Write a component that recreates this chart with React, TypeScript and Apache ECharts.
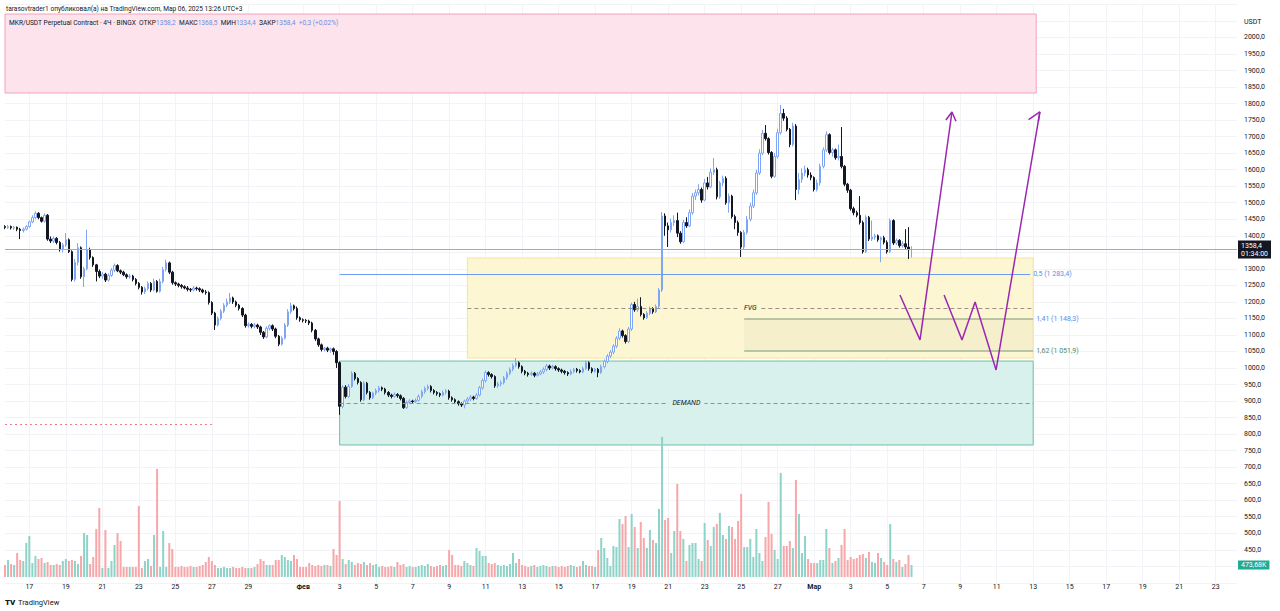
import React, { useEffect, useRef } from "react";
import * as echarts from "echarts";

// 4H candles, [open, close, low, high], first slot = 15 Jan 2025 16:00
const CANDLES: number[][] = [
  [1428,1425,1420,1432],[1425,1428,1421,1433],[1428,1424,1419,1431],[1424,1426,1418,1430],[1426,1420,1414,1428],[1420,1416,1390,1424],[1416,1420,1410,1425],[1420,1428,1416,1432],[1428,1442,1424,1446],[1442,1455,1438,1462],
  [1455,1468,1450,1474],[1468,1455,1450,1472],[1455,1444,1440,1458],[1444,1462,1440,1468],[1462,1390,1385,1466],[1390,1384,1378,1398],[1384,1392,1378,1398],[1392,1380,1374,1396],[1380,1358,1352,1384],[1358,1372,1350,1378],
  [1372,1388,1366,1408],[1388,1352,1348,1392],[1352,1268,1262,1356],[1268,1320,1262,1330],[1320,1364,1310,1378],[1364,1276,1270,1368],[1276,1300,1245,1306],[1300,1358,1296,1418],[1358,1334,1328,1364],[1334,1312,1306,1338],
  [1312,1292,1262,1315],[1292,1278,1272,1298],[1278,1284,1270,1290],[1284,1266,1260,1288],[1266,1280,1262,1286],[1280,1296,1276,1302],[1296,1310,1290,1316],[1310,1294,1290,1314],[1294,1290,1284,1298],[1290,1282,1278,1294],
  [1282,1276,1270,1286],[1276,1278,1270,1284],[1278,1268,1262,1282],[1268,1256,1250,1272],[1256,1244,1238,1260],[1244,1230,1222,1248],[1230,1240,1224,1246],[1240,1256,1234,1262],[1256,1236,1230,1260],[1236,1262,1232,1270],
  [1262,1232,1228,1266],[1232,1262,1228,1270],[1262,1298,1256,1306],[1298,1318,1292,1328],[1318,1290,1284,1322],[1290,1258,1252,1294],[1258,1254,1248,1262],[1254,1250,1244,1258],[1250,1246,1240,1254],[1246,1242,1238,1250],
  [1242,1238,1232,1248],[1238,1236,1230,1242],[1236,1242,1232,1248],[1242,1240,1234,1246],[1240,1236,1230,1244],[1236,1230,1226,1240],[1230,1228,1222,1236],[1228,1198,1192,1232],[1198,1166,1160,1202],[1166,1130,1115,1170],
  [1130,1150,1126,1156],[1150,1172,1144,1178],[1172,1190,1166,1196],[1190,1200,1184,1210],[1200,1212,1194,1227],[1212,1200,1194,1216],[1200,1190,1184,1204],[1190,1180,1174,1194],[1180,1160,1154,1184],[1160,1128,1122,1164],
  [1128,1132,1122,1138],[1132,1126,1120,1136],[1126,1130,1120,1136],[1130,1124,1118,1134],[1124,1108,1100,1128],[1108,1094,1088,1112],[1094,1120,1090,1126],[1120,1128,1114,1132],[1128,1118,1112,1132],[1118,1096,1090,1122],
  [1096,1072,1066,1100],[1072,1090,1068,1096],[1090,1130,1086,1136],[1130,1170,1124,1178],[1170,1188,1164,1197],[1188,1180,1174,1192],[1180,1152,1146,1186],[1152,1146,1140,1156],[1146,1144,1138,1150],[1144,1142,1136,1148],
  [1142,1136,1130,1146],[1136,1114,1108,1140],[1114,1088,1082,1118],[1088,1070,1064,1092],[1070,1056,1050,1074],[1056,1060,1050,1064],[1060,1054,1048,1064],[1054,1058,1046,1062],[1058,1050,1040,1062],[1050,1016,1000,1054],
  [1016,884,858,1020],[884,942,878,948],[942,914,908,948],[914,944,910,952],[944,984,940,990],[984,968,962,988],[968,956,950,972],[956,904,898,960],[904,954,900,960],[954,926,920,958],
  [926,910,904,930],[910,924,906,928],[924,932,918,938],[932,940,926,946],[940,936,930,944],[936,926,920,940],[926,918,912,930],[918,914,908,922],[914,920,910,926],[920,916,910,924],
  [916,908,902,920],[908,880,876,912],[880,896,876,902],[896,900,892,906],[900,898,892,904],[898,902,894,908],[902,914,898,920],[914,928,908,934],[928,938,922,944],[938,944,932,950],
  [944,932,926,948],[932,926,920,936],[926,922,916,930],[922,918,912,926],[918,926,914,932],[926,930,920,936],[930,910,904,934],[910,904,898,914],[904,898,892,908],[898,892,886,902],
  [892,888,882,896],[888,900,878,904],[900,906,894,912],[906,912,900,918],[912,908,902,916],[908,918,904,924],[918,940,914,946],[940,962,934,968],[962,986,956,992],[986,980,974,990],
  [980,974,968,984],[974,946,940,978],[946,952,940,958],[952,956,944,962],[956,970,950,976],[970,984,964,990],[984,996,978,1002],[996,1008,990,1014],[1008,1016,1002,1030],[1016,1004,998,1020],
  [1004,990,984,1008],[990,984,978,994],[984,980,974,988],[980,984,976,990],[984,978,972,988],[978,982,974,988],[982,988,978,994],[988,996,982,1002],[996,1006,990,1012],[1006,1000,994,1010],
  [1000,1004,996,1010],[1004,998,992,1008],[998,994,988,1002],[994,990,984,998],[990,986,980,994],[986,982,976,990],[982,990,978,996],[990,996,984,1000],[996,992,986,1000],[992,988,984,996],
  [988,998,984,1004],[998,1016,994,1022],[1016,998,992,1020],[998,990,984,1002],[990,996,986,1000],[996,986,972,1000],[986,1004,982,1010],[1004,1020,998,1026],[1020,1036,1014,1042],[1036,1048,1030,1054],
  [1048,1066,1042,1072],[1066,1090,1060,1096],[1090,1112,1084,1120],[1112,1098,1092,1116],[1098,1080,1074,1102],[1080,1118,1076,1124],[1118,1192,1112,1198],[1192,1176,1170,1200],[1176,1186,1170,1210],[1186,1162,1156,1214],
  [1162,1152,1146,1166],[1152,1166,1148,1172],[1166,1180,1160,1186],[1180,1170,1164,1184],[1170,1186,1166,1192],[1186,1236,1180,1242],[1236,1460,1230,1472],[1460,1430,1400,1468],[1430,1418,1366,1440],[1418,1440,1410,1452],
  [1440,1446,1430,1462],[1446,1408,1396,1470],[1408,1382,1376,1414],[1382,1440,1378,1448],[1440,1430,1424,1456],[1430,1470,1426,1480],[1470,1520,1464,1530],[1520,1530,1508,1540],[1530,1540,1522,1556],[1540,1508,1500,1546],
  [1508,1560,1504,1572],[1560,1548,1540,1578],[1548,1592,1544,1604],[1592,1600,1584,1635],[1600,1518,1510,1606],[1518,1560,1512,1566],[1560,1574,1550,1582],[1574,1500,1494,1580],[1500,1520,1470,1528],[1520,1458,1452,1524],
  [1458,1440,1420,1464],[1440,1410,1400,1446],[1410,1366,1336,1414],[1366,1410,1360,1418],[1410,1450,1404,1460],[1450,1490,1444,1500],[1490,1530,1484,1540],[1530,1590,1524,1600],[1590,1650,1584,1662],[1650,1710,1644,1720],
  [1710,1694,1688,1735],[1694,1652,1646,1698],[1652,1580,1574,1656],[1580,1640,1576,1650],[1640,1712,1634,1724],[1712,1770,1706,1796],[1770,1756,1748,1784],[1756,1722,1716,1762],[1722,1676,1668,1726],[1676,1732,1670,1742],
  [1732,1540,1508,1738],[1540,1570,1526,1590],[1570,1590,1560,1604],[1590,1600,1580,1612],[1600,1584,1576,1606],[1584,1576,1568,1592],[1576,1540,1534,1580],[1540,1560,1534,1570],[1560,1610,1552,1618],[1610,1660,1604,1668],
  [1660,1706,1654,1716],[1706,1652,1646,1710],[1652,1660,1640,1666],[1660,1636,1630,1664],[1636,1640,1628,1676],[1640,1610,1604,1729],[1610,1556,1550,1614],[1556,1538,1530,1560],[1538,1482,1476,1542],[1482,1470,1462,1488],
  [1470,1462,1456,1476],[1462,1440,1434,1520],[1440,1352,1346,1446],[1352,1456,1348,1462],[1456,1390,1384,1460],[1390,1396,1384,1446],[1396,1400,1388,1406],[1400,1388,1382,1404],[1388,1394,1320,1398],[1394,1380,1374,1400],
  [1380,1352,1346,1386],[1352,1446,1348,1452],[1446,1378,1372,1450],[1378,1386,1372,1392],[1386,1370,1364,1390],[1370,1376,1364,1384],[1376,1366,1360,1420],[1366,1358.1,1330,1426],[1358.2,1358.4,1334.4,1368.5],
];

// Volume per candle, thousands
const VOLUMES: number[] = [
  474,672,514,474,948,672,632,1343,1620,553,830,711,751,553,593,474,
  474,514,474,632,711,632,672,632,514,830,1738,1659,514,790,1896,2726,
  355,1857,355,632,1264,1738,1422,395,395,395,395,395,2805,355,632,711,
  435,1659,4266,395,1817,395,1343,1106,395,395,435,395,395,435,395,395,
  435,474,593,790,632,474,355,355,395,355,355,395,355,355,395,355,
  355,355,395,514,711,632,474,474,474,672,672,869,790,672,632,869,
  711,395,395,395,553,474,435,474,435,474,474,435,1106,869,3002,711,
  514,672,593,474,553,514,593,474,553,474,514,395,435,395,395,435,
  395,593,474,514,395,435,395,395,435,474,435,514,435,395,435,474,
  435,474,1067,869,474,474,435,632,553,474,435,1146,1027,830,830,553,
  514,553,474,435,474,435,514,948,553,711,474,435,395,435,474,395,
  435,474,435,395,435,435,395,435,395,435,474,435,395,435,632,474,
  435,435,395,1067,
  1541,1146,751,435,1225,1185,2291,2094,2410,1185,
  2489,1975,1146,2173,1541,1146,1857,1462,1343,2686,
  5530,2252,2331,948,1817,3674,1817,1501,632,1264,
  1343,1343,711,632,2133,1462,1225,1975,2094,2528,
  1659,1501,2015,1975,1501,2212,3279,1185,1185,1501,
  790,1896,948,632,1580,2963,1699,1067,711,4108,
  1225,1225,1422,1146,3832,2489,948,1620,711,553,
  553,553,672,672,1896,1146,553,632,751,1264,
  1896,672,790,711,751,869,909,751,988,593,
  553,948,751,593,474,2094,711,593,672,395,
  514,869,473.68,
];

const START_UTC = Date.UTC(2025, 0, 15, 16);
const SLOT_COUNT = 406;
const DAY_TICKS = [
  "01-17","01-19","01-21","01-23","01-25","01-27","01-29","02-01","02-03","02-05","02-07",
  "02-09","02-11","02-13","02-15","02-17","02-19","02-21","02-23","02-25","02-27","03-01",
  "03-03","03-05","03-07","03-09","03-11","03-13","03-15","03-17","03-19","03-21","03-23",
];
const MONTH_NAMES: Record<string, string> = { "02-01": "Фев", "03-01": "Мар" };

// zones: [fromSlot, toSlot, low, high]
const SUPPLY_ZONE = [0, 339, 1832, 2071];
const FVG_ZONE = [152, 338, 1030, 1333];
const DEMAND_ZONE = [110, 338, 767, 1021];
const FIB_BAND = [243, 338, 1051.9, 1148.3];
const FIB_LEVELS = [
  { label: "0,5 (1 283,4)", price: 1283.4, from: 110, to: 337 },
  { label: "1,41 (1 148,3)", price: 1148.3, from: 243, to: 338 },
  { label: "1,62 (1 051,9)", price: 1051.9, from: 243, to: 338 },
];
const FVG_MID = [152, 338, 1181.5];
const DEMAND_MID = [110, 338, 894];
const RED_LEVEL = [0, 68, 830.6];
const PATH_A = [[294.2, 1221], [300.8, 1085], [311.3, 1774.6]];
const PATH_B = [[308.7, 1221], [314.6, 1085], [318.9, 1199.7], [325.8, 994], [340.2, 1774.6]];
const ARROW_A = [[309.3, 1750.4], [311.3, 1774.6], [312.6, 1746.5]];
const ARROW_B = [[336.5, 1751.3], [340.2, 1774.6], [339.7, 1746.1]];
const LAST_PRICE_TIMER = "01:34:00";

const FONT = 'Roboto, "Noto Sans", sans-serif';
const TEXT = "#131722";
const UP_BORDER = "#7ea6f4";
const DOWN = "#131722";
const VOL_UP = "#8ed3c7";
const VOL_DOWN = "#f7a6a9";
const PURPLE = "#9c27b0";

const fmt = (v: number) => v.toFixed(1).replace(".", ",");

export default function App() {
  const ref = useRef<HTMLDivElement>(null);
  useEffect(() => {
    if (!ref.current) return;
    const chart = echarts.init(ref.current, undefined, { renderer: "svg" });

    const categories: string[] = [];
    for (let i = 0; i < SLOT_COUNT; i++) {
      const d = new Date(START_UTC + i * 4 * 3600 * 1000);
      const mm = String(d.getUTCMonth() + 1).padStart(2, "0");
      const dd = String(d.getUTCDate()).padStart(2, "0");
      const hh = String(d.getUTCHours()).padStart(2, "0");
      categories.push(`${mm}-${dd} ${hh}`);
    }
    const isTick = (_i: number, v: string) => v.endsWith(" 00") && DAY_TICKS.includes(v.slice(0, 5));

    const last = CANDLES[CANDLES.length - 1];
    const prevClose = CANDLES[CANDLES.length - 2][1];
    const chg = last[1] - prevClose;
    const chgPct = ((chg / prevClose) * 100).toFixed(2).replace(".", ",");
    const lastVol = VOLUMES[VOLUMES.length - 1];

    const volData = VOLUMES.map((v, i) => ({
      value: v,
      itemStyle: { color: CANDLES[i][1] >= CANDLES[i][0] ? VOL_UP : VOL_DOWN },
    }));

    const zoneArea = (z: number[], fill: string, border: string) => [
      { coord: [z[0], z[3]], itemStyle: { color: fill, borderColor: border, borderWidth: 1 } },
      { coord: [z[1], z[2]] },
    ];

    const midLine = (m: number[], text: string, bg: string) => [
      {
        coord: [m[0], m[2]],
        lineStyle: { color: "#9a8f80", type: [4, 3], width: 1 },
        label: {
          show: true, position: "insideMiddle", formatter: text, fontStyle: "italic",
          color: TEXT, fontSize: 7, fontFamily: FONT, backgroundColor: bg, padding: [1, 4],
        },
      },
      { coord: [m[1], m[2]] },
    ];

    const fibColors = ["#6f9cf0", "#a3b496", "#a3b496"];
    const fibLabelColors = ["#5b8def", "#5b8def", "#4f8a6f"];

    // hide axis labels that sit under the last-price / last-volume badges
    const hiddenTicks = (v: number) => v < 450 || v > 2000 || Math.abs(v - last[1]) < 20;

    const option: any = {
      animation: false,
      backgroundColor: "#ffffff",
      grid: [
        { left: 5, right: 43, top: 4.45, bottom: 28.2 },
        { left: 5, right: 43, top: 374.3, bottom: 34 },
      ],
      xAxis: [
        {
          type: "category", gridIndex: 0, data: categories, boundaryGap: false,
          axisLine: { show: false }, axisTick: { show: false }, axisLabel: { show: false },
          splitLine: { show: true, interval: isTick, lineStyle: { color: "#f1f3f7", width: 1 } },
        },
        {
          type: "category", gridIndex: 1, data: categories, boundaryGap: false,
          axisLine: { show: false }, axisTick: { show: false }, splitLine: { show: false },
          axisLabel: {
            show: true, interval: isTick, margin: 6, fontSize: 7, color: TEXT, fontFamily: FONT,
            formatter: (v: string) => {
              const md = v.slice(0, 5);
              return MONTH_NAMES[md] ? `{m|${MONTH_NAMES[md]}}` : String(Number(v.slice(3, 5)));
            },
            rich: { m: { fontWeight: "bold", fontSize: 7, color: TEXT, fontFamily: FONT } },
          },
        },
        { type: "value", gridIndex: 0, min: 0, max: SLOT_COUNT - 1, show: false },
      ],
      yAxis: [
        {
          type: "value", gridIndex: 0, position: "right", min: 350, max: 2100, interval: 50,
          axisLine: { show: false }, axisTick: { show: false },
          splitLine: { show: true, lineStyle: { color: "#f1f3f7", width: 1 } },
          axisLabel: {
            margin: 7, fontSize: 7, color: TEXT, fontFamily: FONT,
            formatter: (v: number) => (hiddenTicks(v) ? "" : fmt(v)),
          },
        },
        { type: "value", gridIndex: 1, min: 0, max: 8000, show: false },
      ],
      series: [
        {
          name: "drawings", type: "line", xAxisIndex: 2, yAxisIndex: 0, data: [], silent: true,
          markArea: {
            silent: true,
            data: [
              zoneArea(SUPPLY_ZONE, "#fde4ec", "#f3a3bd"),
              zoneArea(FVG_ZONE, "#fdf6d2", "#f6e39a"),
              zoneArea(DEMAND_ZONE, "#d9f1ec", "#6fbfa6"),
              [
                { coord: [FIB_BAND[0], FIB_BAND[3]], itemStyle: { color: "rgba(120,120,90,0.05)" } },
                { coord: [FIB_BAND[1], FIB_BAND[2]] },
              ],
            ],
          },
          markLine: {
            silent: true, symbol: ["none", "none"], label: { show: false },
            lineStyle: { color: "#a9abb2", type: "solid", width: 1 },
            data: [
              ...FIB_LEVELS.map((f, k) => [
                {
                  coord: [f.from, f.price],
                  lineStyle: { color: fibColors[k], width: k === 0 ? 1 : 1.5, type: "solid" },
                  label: {
                    show: true, position: "end", formatter: f.label, distance: 3,
                    color: fibLabelColors[k], fontSize: 7, fontFamily: FONT,
                  },
                },
                { coord: [f.to, f.price] },
              ]),
              midLine(FVG_MID, "FVG", "#fdf6d2"),
              midLine(DEMAND_MID, "DEMAND", "#d9f1ec"),
              [
                { coord: [RED_LEVEL[0], RED_LEVEL[2]], lineStyle: { color: "#f07a88", type: [2, 3], width: 1 } },
                { coord: [RED_LEVEL[1], RED_LEVEL[2]] },
              ],
              {
                yAxis: last[1],
                lineStyle: { color: "#a9abb2", width: 1, type: "solid" },
                label: {
                  show: true, position: "end", distance: 1,
                  formatter: `${fmt(last[1])}\n${LAST_PRICE_TIMER}`,
                  backgroundColor: "#131722", color: "#ffffff", fontSize: 7, lineHeight: 8,
                  padding: [1, 3], fontFamily: FONT,
                },
              },
            ],
          },
        },
        {
          name: "MKR", type: "candlestick", xAxisIndex: 0, yAxisIndex: 0, data: CANDLES,
          barWidth: 2,
          itemStyle: { color: "#ffffff", color0: DOWN, borderColor: UP_BORDER, borderColor0: DOWN, borderWidth: 1 },
        },
        {
          name: "Volume", type: "bar", xAxisIndex: 1, yAxisIndex: 1, data: volData, barWidth: 2,
          markLine: {
            silent: true, symbol: ["none", "none"],
            data: [
              {
                yAxis: lastVol,
                lineStyle: { color: "rgba(0,0,0,0)", width: 1 },
                label: {
                  show: true, position: "end", distance: 1,
                  formatter: lastVol.toFixed(2).replace(".", ",") + "K",
                  backgroundColor: "#22ab94", color: "#ffffff", fontSize: 7, padding: [1, 3], fontFamily: FONT,
                },
              },
            ],
          },
        },
        ...[PATH_A, PATH_B, ARROW_A, ARROW_B].map((p) => ({
          type: "line", xAxisIndex: 2, yAxisIndex: 0, data: p, showSymbol: false, silent: true,
          lineStyle: { color: PURPLE, width: 1.5 }, z: 6,
        })),
      ],
      graphic: [
        {
          type: "text", left: 6, top: 5, z: 100,
          style: {
            text: "tarasovtrader1 опубликовал(а) на TradingView.com, Мар 06, 2025 13:26 UTC+3",
            fontSize: 6.6, fill: TEXT, fontFamily: FONT,
          },
        },
        {
          type: "text", left: 9, top: 19, z: 100,
          style: {
            text:
              `{a|MKR/USDT Perpetual Contract · 4Ч · BINGX  ОТКР}{b|${fmt(last[0])}}` +
              `{a|  МАКС}{b|${fmt(last[3])}}{a|  МИН}{b|${fmt(last[2])}}{a|  ЗАКР}{b|${fmt(last[1])}}` +
              `{b|  +${fmt(chg)} (+${chgPct}%)}`,
            rich: {
              a: { fontSize: 6.6, fill: TEXT, fontFamily: FONT },
              b: { fontSize: 6.6, fill: "#6a8fe8", fontFamily: FONT },
            },
          },
        },
        {
          type: "text", left: 1244, top: 18, z: 100,
          style: { text: "USDT", fontSize: 7, fill: TEXT, fontFamily: FONT },
        },
        {
          type: "text", left: 5, top: 598, z: 100,
          style: { text: "TV", fontSize: 8, fontWeight: 900, fill: TEXT, fontFamily: FONT },
        },
        {
          type: "text", left: 18, top: 598, z: 100,
          style: { text: "TradingView", fontSize: 7.5, fill: TEXT, fontFamily: FONT },
        },
      ],
    };
    chart.setOption(option);
    return () => chart.dispose();
  }, []);
  return (
    <div
      ref={ref}
      style={{ position: "fixed", left: 0, top: 0, width: 1280, height: 611, background: "#fff" }}
    />
  );
}
